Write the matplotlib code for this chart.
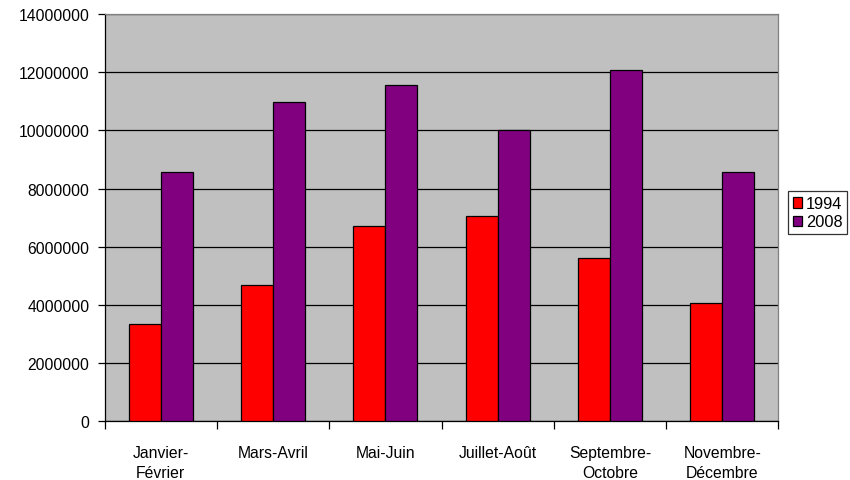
import matplotlib
matplotlib.use("Agg")
import matplotlib.pyplot as plt
import numpy as np

plt.rcParams['font.family'] = ['Liberation Sans', 'DejaVu Sans']

categories = ["Janvier-\nFévrier", "Mars-Avril", "Mai-Juin", "Juillet-Août",
              "Septembre-\nOctobre", "Novembre-\nDécembre"]
series_names = ["1994", "2008"]
values_1994 = [3350000, 4700000, 6700000, 7040000, 5600000, 4050000]
values_2008 = [8570000, 10980000, 11570000, 10030000, 12080000, 8560000]
y_ticks = [0, 2000000, 4000000, 6000000, 8000000, 10000000, 12000000, 14000000]

colors = ["#ff0000", "#800080"]

fig = plt.figure(figsize=(8.5, 4.81), dpi=100)
ax = fig.add_axes([0.1232, 0.1220, 0.7925, 0.8468])
ax.set_facecolor("#c0c0c0")

x = np.arange(len(categories))
w = 1 / 3.5
ax.bar(x - w / 2, values_1994, width=w, color=colors[0], edgecolor="black",
       linewidth=0.9, label=series_names[0], zorder=3)
ax.bar(x + w / 2, values_2008, width=w, color=colors[1], edgecolor="black",
       linewidth=0.9, label=series_names[1], zorder=3)

ax.set_xlim(-0.5, len(categories) - 0.5)
ax.set_ylim(0, 14000000)
ax.set_yticks(y_ticks)
ax.set_yticklabels([str(v) for v in y_ticks], fontsize=11.3)
ax.yaxis.grid(True, color="black", linewidth=0.9, zorder=1)
ax.set_axisbelow(True)

# category boundaries carry the tick marks, centres carry the labels
ax.set_xticks(np.arange(len(categories) + 1) - 0.5)
ax.set_xticklabels([])
ax.set_xticks(x, minor=True)
ax.set_xticklabels(categories, minor=True, fontsize=11.3, linespacing=1.45)
ax.tick_params(axis="x", which="major", direction="out", length=6, width=0.9)
ax.tick_params(axis="x", which="minor", length=0, pad=17)
ax.tick_params(axis="y", direction="out", length=5, width=0.9, pad=6)

for side in ("left", "bottom"):
    ax.spines[side].set_color("black")
    ax.spines[side].set_linewidth(0.9)
for side in ("top", "right"):
    ax.spines[side].set_color("#808080")
    ax.spines[side].set_linewidth(0.9)

leg = ax.legend(loc="upper left", bbox_to_anchor=(0.9267, 0.6002),
                bbox_transform=fig.transFigure, borderaxespad=0,
                fontsize=11.8, frameon=True, fancybox=False,
                handlelength=0.6, handleheight=0.6, handletextpad=0.2,
                borderpad=0.3, labelspacing=0.2)
leg.get_frame().set_edgecolor("black")
leg.get_frame().set_linewidth(0.9)

fig.savefig("out.png", dpi=100)
